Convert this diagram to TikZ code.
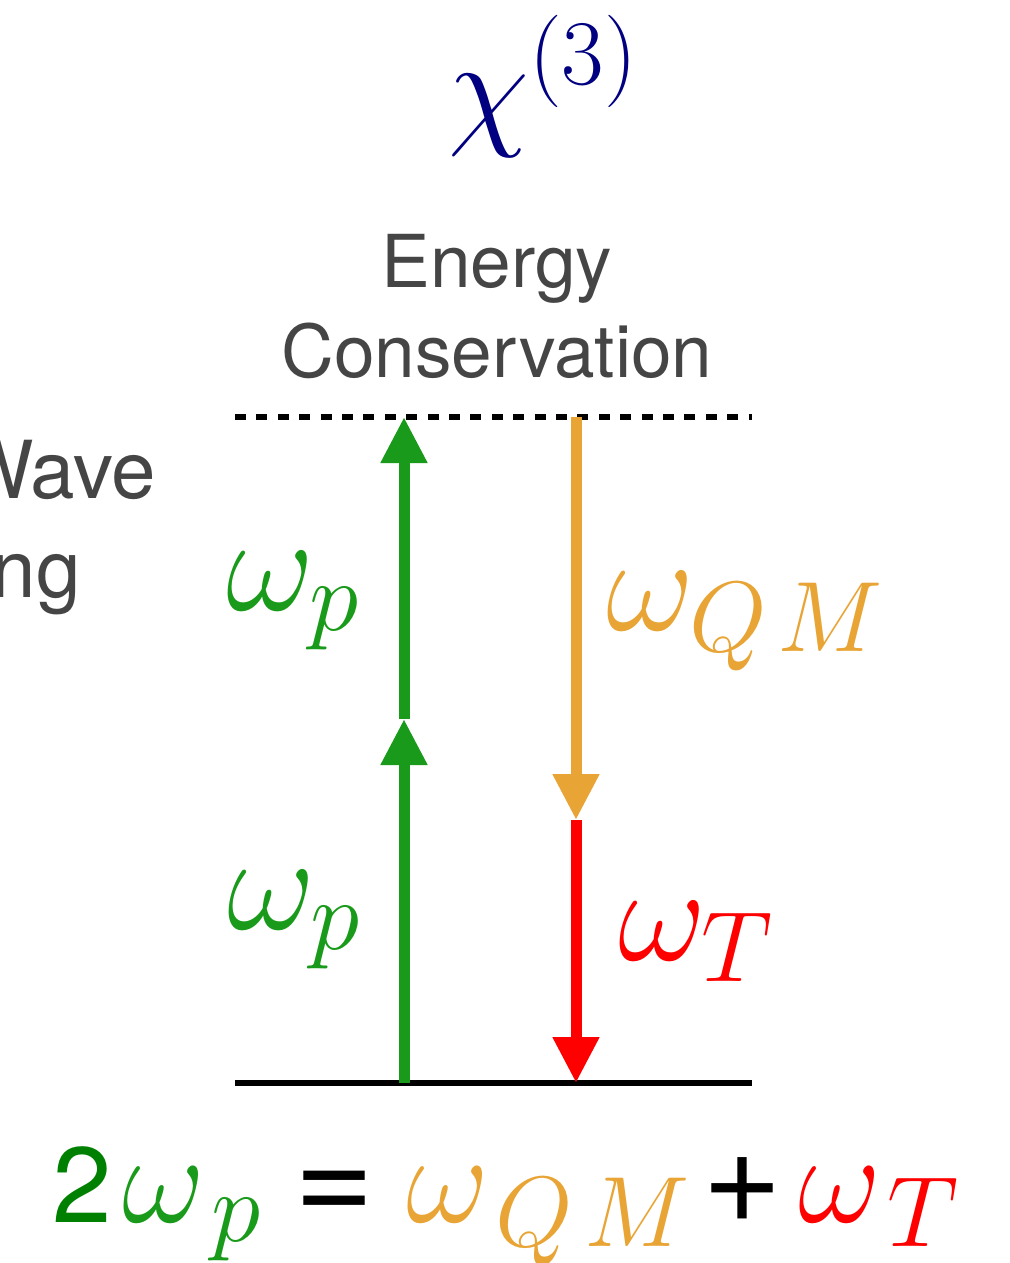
\documentclass[tikz,border=0pt]{standalone}
\usepackage{fix-cm}
\usepackage{fontspec}
\setsansfont{TeX Gyre Heros}
\usetikzlibrary{arrows.meta,positioning}
\definecolor{PumpGreen}{HTML}{1A9A1A}
\definecolor{SumGreen}{HTML}{008000}
\definecolor{QmOrange}{HTML}{E8A435}
\definecolor{TRed}{HTML}{FF0000}
\definecolor{ChiNavy}{HTML}{000080}
\definecolor{TextGray}{HTML}{454545}
\DeclareMathSizes{68}{68}{50}{36}
\DeclareMathSizes{64}{64}{50}{36}

\begin{document}
\begin{tikzpicture}[x=0.5pt,y=-0.5pt,
    photon/.style={line width=5.5pt,-{Triangle[length=23pt,width=22pt]}},
    lbl/.style={inner sep=0pt,anchor=base west,font=\fontsize{68}{72}\selectfont},
    sum/.style={inner sep=0pt,anchor=base west,font=\fontsize{64}{70}\selectfont},
    op/.style={inner sep=0pt,anchor=base west,font=\sffamily\fontsize{68.5}{72}\selectfont},
    words/.style={align=center,inner sep=0pt,anchor=base,text=TextGray}
  ]
    \useasboundingbox (0,0) rectangle (1009,1263);
    \clip (0,0) rectangle (1009,1263);
    % levels
    \coordinate (vl) at (235,417); \coordinate (vr) at (752,417);
    \coordinate (gl) at (235,1083); \coordinate (gr) at (752,1083);
    \draw[line width=2.6pt,dash pattern=on 5.5pt off 5.2pt] (vl)--(vr);
    \draw[line width=2.6pt] (gl)--(gr);
    % photons
    \coordinate (g0) at (404,1083); \coordinate (g1) at (404,719); \coordinate (g2) at (404,417);
    \coordinate (o0) at (576,417); \coordinate (o1) at (576,820); \coordinate (r1) at (576,1083);
    \draw[photon,PumpGreen] (g0)--(g1);
    \draw[photon,PumpGreen] (g1)--(g2);
    \draw[photon,QmOrange] (o0)--(o1);
    \draw[photon,TRed] (o1)--(r1);
    % labels
    \node[lbl,text=PumpGreen] (wp2) at (226,610) {$\omega_p$};
    \node[lbl,text=PumpGreen] (wp1) at (227,929) {$\omega_p$};
    \node[lbl,text=QmOrange] (wqm) at (606,630) {$\omega_{Q\mkern2mu M}$};
    \node[lbl,text=TRed] (wt) at (618,960) {$\omega_T$};
    \node[inner sep=0pt,anchor=base,text=ChiNavy,font=\fontsize{66}{70}\selectfont] (chi) at (543,132) {$\chi^{(3)}$};
    \node[words,font=\sffamily\fontsize{36.5}{45}\selectfont] (econs) at (497,377) {Energy\\Conservation};
    \node[words,font=\sffamily\fontsize{40}{49.5}\selectfont] (fwm) at (-35,597) {Four-Wave\\Mixing};
    % energy balance
    \node[inner sep=0pt,anchor=base west,text=SumGreen,font=\sffamily\fontsize{53.5}{60}\selectfont] (two) at (52,1222) {2};
    \node[sum,text=PumpGreen] (wpsum) at (122,1222) {$\omega_{\mkern2mu p}$};
    \node[op] (eq) at (294,1222) {=};
    \node[sum,text=QmOrange] (wqmsum) at (406,1222) {$\omega_{\mkern2mu Q\mkern2mu M}$};
    \node[op] (plus) at (702,1222) {+};
    \node[sum,text=TRed] (wtsum) at (798,1222) {$\omega_{\mkern2mu T}$};
  \end{tikzpicture}
\end{document}
